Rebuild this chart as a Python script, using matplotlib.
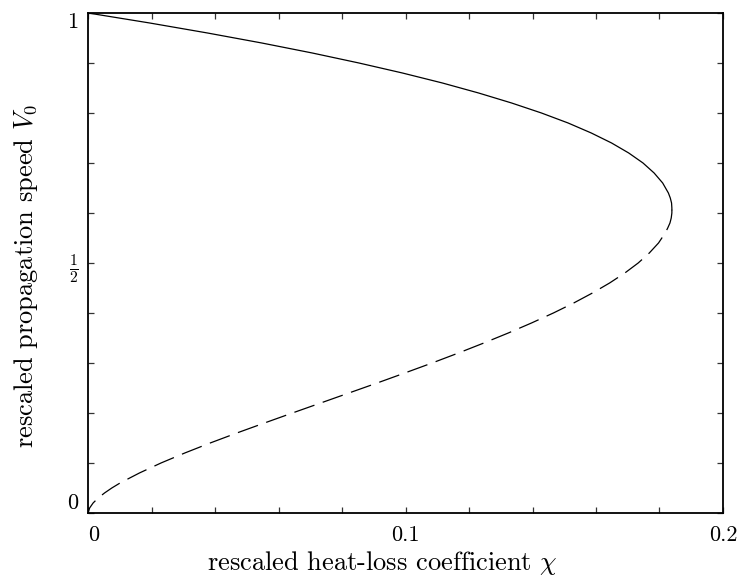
import matplotlib
matplotlib.use("Agg")
import matplotlib.pyplot as plt

plt.rcParams['font.family'] = 'serif'
plt.rcParams['font.serif'] = ['cmr10', 'DejaVu Serif']
plt.rcParams['mathtext.fontset'] = 'cm'
plt.rcParams['axes.unicode_minus'] = False

# upper (stable) branch: speed V0 and heat-loss chi
v_upper = [1.00, 0.98, 0.96, 0.94, 0.92, 0.90, 0.88, 0.86, 0.84, 0.82, 0.80,
           0.78, 0.76, 0.74, 0.72, 0.70, 0.68, 0.66, 0.64, 0.63, 0.62, 0.61, 0.6065]
chi_upper = [0.0, 0.0194, 0.0376, 0.0547, 0.0706, 0.0853, 0.0990, 0.1116, 0.1230,
             0.1334, 0.1428, 0.1512, 0.1585, 0.1649, 0.1703, 0.1748, 0.1783, 0.1810,
             0.1828, 0.1834, 0.1838, 0.1839, 0.1839]

# lower (unstable) branch
v_lower = [0.6065, 0.60, 0.59, 0.58, 0.57, 0.56, 0.54, 0.52, 0.50, 0.48, 0.46, 0.44,
           0.42, 0.40, 0.38, 0.36, 0.34, 0.32, 0.30, 0.28, 0.26, 0.24, 0.22, 0.20,
           0.18, 0.16, 0.14, 0.12, 0.10, 0.08, 0.06, 0.05, 0.04, 0.03, 0.02, 0.01, 0.0]
chi_lower = [0.1839, 0.1839, 0.1837, 0.1833, 0.1826, 0.1818, 0.1797, 0.1768, 0.1733,
             0.1691, 0.1643, 0.1589, 0.1530, 0.1466, 0.1397, 0.1324, 0.1247, 0.1167,
             0.1084, 0.0998, 0.0911, 0.0822, 0.0733, 0.0644, 0.0556, 0.0469, 0.0385,
             0.0305, 0.0230, 0.0162, 0.0101, 0.0075, 0.0052, 0.0032, 0.0016, 0.0005, 0.0]

x_ticks = [0, 0.02, 0.04, 0.06, 0.08, 0.1, 0.12, 0.14, 0.16, 0.18, 0.2]
x_labels = ['0', '', '', '', '', '0.1', '', '', '', '', '0.2']
y_ticks = [0, 0.1, 0.2, 0.3, 0.4, 0.5, 0.6, 0.7, 0.8, 0.9, 1.0]
y_labels = ['0', '', '', '', '', r'$\frac{1}{2}$', '', '', '', '', '1']

fig = plt.figure(figsize=(7.4, 5.77), dpi=100)
ax = fig.add_axes([0.119, 0.111, 0.858, 0.8665])

ax.plot(chi_upper, v_upper, color='black', lw=0.9)
ax.plot(chi_lower, v_lower, color='black', lw=0.9, linestyle=(0, (17, 7)))

ax.set_xlim(0, 0.2)
ax.set_ylim(0, 1)
ax.set_xticks(x_ticks)
ax.set_xticklabels(x_labels)
ax.set_yticks(y_ticks)
ax.set_yticklabels(y_labels)
ax.tick_params(direction='in', length=4.5, width=0.9, top=True, right=True,
               labelsize=16, color='#333333')
ax.tick_params(axis='x', pad=9)
ax.tick_params(axis='y', pad=7)
for s in ax.spines.values():
    s.set_linewidth(1.3)

# end labels sit inside the axis range like in the original
xt = ax.get_xticklabels()
xt[0].set_ha('left')
yt = ax.get_yticklabels()
yt[0].set_va('bottom')
yt[-1].set_va('top')

ax.set_xlabel(r'rescaled heat-loss coefficient $\chi$', fontsize=19)
ax.xaxis.set_label_coords(0.464, -0.072)
ax.set_ylabel(r'rescaled propagation speed $V_0$', fontsize=19)
ax.yaxis.set_label_coords(-0.075, 0.474)

fig.savefig('out.png', dpi=100)
